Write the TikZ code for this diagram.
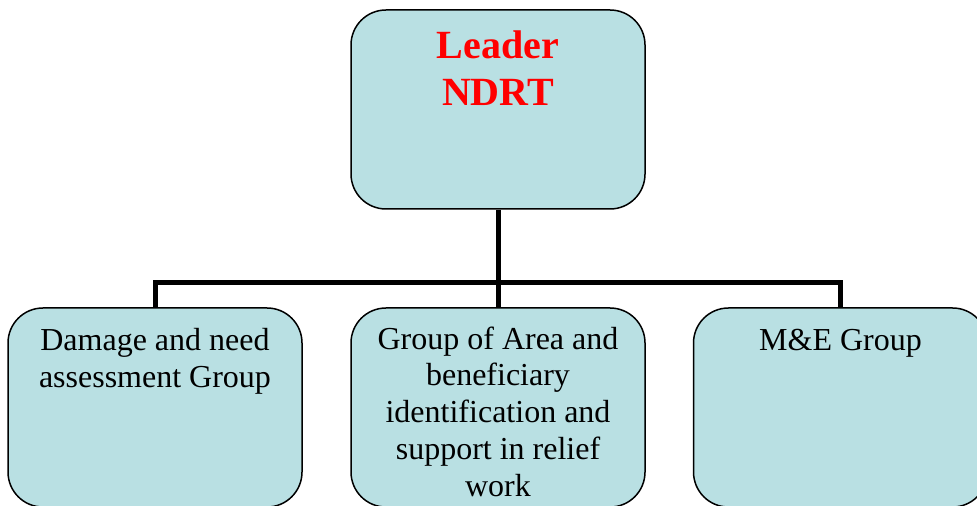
\documentclass[tikz,border=0pt]{standalone}
\usepackage{fontspec}
\setmainfont{Liberation Serif}
\usetikzlibrary{positioning}
\definecolor{boxfill}{RGB}{185,224,227}
\tikzset{
  groupbox/.style={draw=black, line width=0.75pt, fill=boxfill, rounded corners=17.5pt,
    minimum width=147pt, minimum height=99.5pt, inner sep=0pt},
  grouptext/.style={anchor=north, align=center, inner sep=0pt,
    font=\fontsize{16}{18.4}\selectfont},
  leadtext/.style={anchor=north, align=center, inner sep=0pt, text=red,
    font=\fontsize{20}{23.5}\selectfont\bfseries},
  link/.style={line width=2.5pt}
}
\begin{document}
\begin{tikzpicture}[x=0.5pt, y=-0.5pt]
  \useasboundingbox (0,0) rectangle (977,506);
  \clip (0,0) rectangle (977,506);

  % Drawing connectors first
  \coordinate (bus) at (498,283);%

  % Drawing box lead
  \node [groupbox] (lead) at (498,109.5) {};%
  \node [leadtext, below=10.5pt of lead.north] (leadlbl) {Leader\\NDRT};%

  % Drawing box dmg
  \node [groupbox] (dmg) at (155,407.5) {};%
  \node [grouptext, below=10.5pt of dmg.north] (dmglbl) {Damage and need\\assessment Group};%

  % Drawing box area
  \node [groupbox] (area) at (498,407.5) {};%
  \node [grouptext, below=9.5pt of area.north] (arealbl) {Group of Area and\\beneficiary\\identification and\\support in relief\\work};%

  % Drawing box me
  \node [groupbox] (me) at (840.5,407.5) {};%
  \node [grouptext, below=11pt of me.north] (melbl) {M\&E Group};%

  % Drawing tree lines
  \draw [link] (lead.south) -- (bus);%
  \draw [link] (dmg.north) |- (bus) -| (me.north);%
  \draw [link] (bus) -- (area.north);%
\end{tikzpicture}
\end{document}
